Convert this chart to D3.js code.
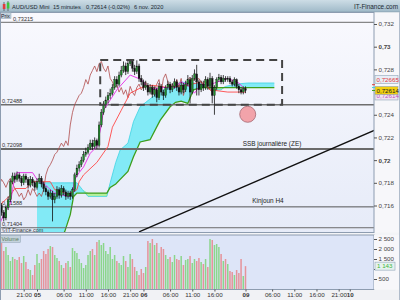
<!DOCTYPE html>
<html><head><meta charset="utf-8">
<script src="https://cdn.jsdelivr.net/npm/d3@7"></script>
<style>body{margin:0;background:#fff}svg{display:block;font-family:"Liberation Sans",Arial,sans-serif}</style>
</head><body><svg id="c" width="400" height="300"></svg>
<script>
// ---- data (30-minute candles, start hour -8.5 relative to 5 nov 00:00) ----
const H0 = -8.5, STEP = 0.5, OPEN0 = 0.7163;
const close = [.7160,.7154,.7149,.7158,.7165,.7181,.7186,.7183,.7187,.7184,
.7180,.7186,.7183,.7178,.7183,.7180,.7176,.7181,.7184,.7179,
.7175,.7172,.7168,.7171,.7165,.7168,.7174,.7169,.7175,.7172,
.7168,.7171,.7168,.7174,.7187,.7193,.7196,.7200,.7205,.7207,
.7211,.7215,.7212,.7217,.7213,.7231,.7242,.7249,.7253,.7257,
.7259,.7264,.7271,.7267,.7275,.7279,.7283,.7278,.7285,.7287,
.7281,.7278,.7283,.7272,.7269,.7264,.7266,.7260,.7264,.7258,
.7262,.7255,.7265,.7260,.7257,.7264,.7267,.7262,.7265,.7269,
.7264,.7260,.7266,.7262,.7267,.7271,.7260,.7272,.7276,.7269,
.7262,.7267,.7264,.7271,.7265,.7272,.7257,.7264,.7271,.7273,
.7269,.7272,.7271,.7272,.7269,.7267,.7271,.7265,.7262,.7260,
.7263,.72614];
const high = [.7166,.7162,.7156,.7160,.7168,.7183,.7189,.7189,.7190,.7189,
.7186,.7188,.7188,.7185,.7186,.7185,.7182,.7184,.7188,.7186,
.7181,.7177,.7174,.7174,.7173,.7171,.7177,.7176,.7178,.7177,
.7174,.7173,.7173,.7176,.7189,.7196,.7199,.7203,.7208,.7211,
.7214,.7218,.7218,.7220,.7219,.7234,.7245,.7252,.7256,.7260,
.7263,.7267,.7274,.7274,.7278,.7283,.7287,.7286,.7288,.7289,
.7289,.7284,.7288,.7285,.7275,.7271,.7270,.7268,.7267,.7266,
.7265,.7264,.7268,.7267,.7262,.7266,.7270,.7269,.7268,.7272,
.7271,.7266,.7269,.7268,.7270,.7275,.7273,.7275,.7280,.7284,
.7271,.7270,.7270,.7274,.7273,.7277,.7274,.7266,.7273,.7276,
.7275,.7275,.7274,.7274,.7274,.7271,.7273,.7272,.7267,.7264,
.7265,.7265];
const low = [.7157,.7151,.7146,.7147,.7156,.7163,.7179,.7180,.7181,.7181,
.7177,.7178,.7180,.7175,.7176,.7177,.7173,.7174,.7179,.7176,
.7172,.7169,.7165,.7166,.7146,.7162,.7166,.7166,.7167,.7169,
.7165,.7166,.7165,.7166,.7172,.7185,.7190,.7194,.7198,.7203,
.7205,.7209,.7209,.7210,.7210,.7211,.7229,.7240,.7246,.7250,
.7254,.7257,.7262,.7264,.7265,.7273,.7277,.7275,.7276,.7283,
.7278,.7275,.7276,.7269,.7266,.7261,.7262,.7257,.7258,.7255,
.7256,.7251,.7253,.7257,.7253,.7255,.7262,.7259,.7260,.7263,
.7261,.7257,.7258,.7259,.7260,.7265,.7250,.7258,.7270,.7257,
.7257,.7260,.7261,.7262,.7262,.7263,.7250,.7240,.7262,.7269,
.7267,.7267,.7269,.7269,.7267,.7265,.7265,.7263,.7259,.7258,
.7258,.7259];
const volume = [2400,2300,1900,2100,1700,1400,1600,1500,1450,1600,
1300,1650,1350,1000,950,700,1200,1750,1300,1500,
1900,1750,2000,2150,2100,1700,1550,1400,1200,1050,
1300,1400,1100,2050,1900,1800,1500,1300,1050,1200,
1700,1900,2000,1700,2350,2450,2200,2300,1900,1750,
2100,1500,1700,1400,1300,1200,1650,1400,1100,1750,
1500,1100,900,700,1000,800,1100,2400,2300,2500,
2200,2300,1800,2100,2000,1700,1500,1600,1350,1700,
1500,1450,1650,1200,1450,1500,1650,1300,1500,1400,
1550,1350,1250,1500,1100,2500,2450,2200,2250,2100,
1750,1400,1500,1250,900,850,700,950,800,1500,
650,1143];
// Ichimoku lines (hour, price)
const tenkanH = [-8.5,-7.5,-6,-5.5,-5,-4.5,-1,0,1,2.5,3,4,7,8,8.5,9.5,10.5,12,13.5,14.5,15,16.5,18,21,23.5,25.5,28,31,32.5,34,35.5,37,38.5,40,43,45.5,47];
const tenkanP = [.7143,.7152,.7162,.7174,.7185,.7189,.7189,.7183,.7181,.7176,.7174,.7171,.7168,.7169,.7183,.7189,.7194,.7206,.7212,.7231,.7244,.7253,.7262,.7275,.7271,.7262,.7264,.7264,.7269,.7266,.7259,.7267,.7266,.7268,.7272,.7268,.7262];
const kijunH = [-8.5,-6,-5,-2.5,-1,3,4,7,9,9.5,10.5,13.5,16,17,19,21,23.5,26,29.5,34,37,39,43,47];
const kijunP = [.7160,.7169,.7175,.7175,.7181,.7181,.7174,.7170,.7174,.7181,.7187,.7198,.7212,.7229,.7244,.7259,.7264,.7266,.7264,.7266,.7269,.7262,.7260,.7260];
const CHIKOU_SHIFT = -6.5;
const cloudH = [0,5.25,6.25,7.5,8.25,9,10.25,11.5,15.75,16.5,17.75,18.75,20.5,21.75,23.25,25.5,27.75,30,31.25,32.5,34,35.25,37,38,39.25,41.5,42.5,44.75,47.5,53.5];
const ssa = [.7180,.7180,.7180,.7180,.7180,.7180,.7174,.7168,.7168,.7180,.7198,.7209,.7215,.7234,.7247,.7254,.7261,.7264,.7266,.7269,.7268,.7268,.7267,.7264,.7262,.7262,.7265,.7267,.7268,.7268];
const ssb = [.7123,.7130,.7137,.7152,.7168,.7171,.7171,.7171,.7171,.7176,.7179,.7183,.7190,.7203,.7216,.7218,.7235,.7247,.7251,.7252,.7250,.7262,.7264,.7264,.7264,.7264,.7264,.7264,.7264,.7264];
// levels & annotations
const levelP = [0.73215,0.72488,0.72098,0.71588,0.71404];
const levelLabels = ["0,73215","0,72488","0,72098","0,71588","0,71404"];
const trendH = [23,76], trendP = [0.71368,0.72262];
const boxH = [14.25,55.25], boxP = [0.72488,0.72883];
const circleH = 47.5, circleP = 0.72404;
const priceTicks = [0.716,0.718,0.72,0.722,0.724,0.728,0.73,0.732];
const priceTickLabels = ["0,716","0,718","0,72","0,722","0,724","0,728","0,73","0,732"];
const volTicks = [500,1000,1500,2000,2500];
const volTickLabels = ["500","","1 500","2 000","2 500"];
const timeTicks = [-3,0,6,11,16,21,24,30,35,40,47,53,58,63,68,70.5];
const timeLabels = ["21:00","05","06:00","11:00","16:00","21:00","06","06:00","11:00","16:00","09","06:00","11:00","16:00","21:00","10"];
const dayLabels = ["05","06","09","10"];

// ---- drawing ----
const svg = d3.select("#c");
const MX0=0.5, MX1=374, MY0=12.5, MY1=232.5, VY0=235, VY1=289.5;
const x = d3.scaleLinear().domain([0,47]).range([37,245.5]);
const y = d3.scaleLinear().domain([0.714,0.732]).range([228.2,24]);
const yv = d3.scaleLinear().domain([0,2700]).range([289,235]);
const hOf = i => H0 + i*STEP;

const defs = svg.append("defs");
const g1 = defs.append("linearGradient").attr("id","hdr").attr("x1",0).attr("y1",0).attr("x2",0).attr("y2",1);
g1.append("stop").attr("offset",0).attr("stop-color","#cddde6");
g1.append("stop").attr("offset",1).attr("stop-color","#9fb9c8");
const g2 = defs.append("linearGradient").attr("id","mainbg").attr("x1",0).attr("y1",0).attr("x2",0).attr("y2",1);
g2.append("stop").attr("offset",0).attr("stop-color","#f9f9fe");
g2.append("stop").attr("offset",1).attr("stop-color","#e6ebf8");
defs.append("clipPath").attr("id","mclip").append("rect").attr("x",MX0).attr("y",MY0).attr("width",MX1-MX0).attr("height",MY1-MY0);

svg.append("rect").attr("width",400).attr("height",300).attr("fill","#f3f4f7");
// header
svg.append("rect").attr("x",0).attr("y",0).attr("width",400).attr("height",12).attr("fill","url(#hdr)");
svg.append("line").attr("x1",0).attr("x2",400).attr("y1",12).attr("y2",12).attr("stroke","#8aa3b3");
svg.append("line").attr("x1",4).attr("x2",4).attr("y1",2).attr("y2",11).attr("stroke","#333").attr("stroke-width",0.6);
svg.append("rect").attr("x",2.8).attr("y",4).attr("width",2.6).attr("height",5).attr("fill","#e23b3b");
svg.append("line").attr("x1",8).attr("x2",8).attr("y1",1).attr("y2",11).attr("stroke","#333").attr("stroke-width",0.6);
svg.append("rect").attr("x",6.8).attr("y",2.5).attr("width",2.6).attr("height",6).attr("fill","#3cc43c");
const hdrTxt = [["AUD/USD Mini",12],["15 minutes",53],["0,72614 (-0,02%)",86],["6 nov. 2020",134]];
svg.selectAll(".ht").data(hdrTxt).join("text").attr("x",d=>d[1]).attr("y",8.6).text(d=>d[0])
  .attr("font-size",5.7).attr("fill","#1c2a33");
svg.append("text").attr("x",398).attr("y",8.6).attr("text-anchor","end").attr("font-size",6.4).attr("fill","#1c2a33").text("IT-Finance.com");

// main panel
svg.append("rect").attr("x",MX0).attr("y",MY0).attr("width",MX1-MX0).attr("height",MY1-MY0).attr("fill","url(#mainbg)");
svg.append("rect").attr("x",MX1).attr("y",MY0).attr("width",400-MX1).attr("height",MY1-MY0).attr("fill","#f7f7fa");
const m = svg.append("g").attr("clip-path","url(#mclip)");

// cloud
const cloud = cloudH.map((h,i)=>({h,a:ssa[i],b:ssb[i]}));
m.append("path").datum(cloud).attr("fill","#82eaf6")
  .attr("d", d3.area().x(d=>x(d.h)).y0(d=>y(d.b)).y1(d=>y(Math.max(d.a,d.b))));
m.append("path").datum(cloud).attr("fill","#b6ef9c")
  .attr("d", d3.area().x(d=>x(d.h)).y0(d=>y(d.a)).y1(d=>y(Math.max(d.a,d.b))));
m.append("path").datum(cloud).attr("fill","none").attr("stroke","#3fd3e3").attr("stroke-width",0.8)
  .attr("d", d3.line().x(d=>x(d.h)).y(d=>y(d.a)));
m.append("path").datum(cloud).attr("fill","none").attr("stroke","#3e9d1c").attr("stroke-width",1.3)
  .attr("d", d3.line().x(d=>x(d.h)).y(d=>y(d.b)));

// horizontal levels
const lvlW=[1,1.4,2,1,1], lvlC=["#6b6b6b","#6e6e6e","#6a6a6a","#555","#6b6b6b"];
const lvlLX=[13,2,2,2,2];
levelP.forEach((p,i)=>{
  m.append("line").attr("x1",MX0).attr("x2",MX1).attr("y1",y(p)).attr("y2",y(p))
    .attr("stroke",lvlC[i]).attr("stroke-width",lvlW[i]);
  m.append("text").attr("x",lvlLX[i]).attr("y",y(p)-1.6).attr("font-size",5.6).attr("fill","#333").text(levelLabels[i]);
});

// chikou, kijun, tenkan
m.append("path").datum(close).attr("fill","none").attr("stroke","#b04a4a").attr("stroke-width",0.8)
  .attr("d", d3.line().x((d,i)=>x(hOf(i)+CHIKOU_SHIFT)).y(d=>y(d)));
m.append("path").datum(kijunH).attr("fill","none").attr("stroke","#ff4747").attr("stroke-width",0.9)
  .attr("d", d3.line().x(d=>x(d)).y((d,i)=>y(kijunP[i])));
m.append("path").datum(tenkanH).attr("fill","none").attr("stroke","#e83de8").attr("stroke-width",1)
  .attr("d", d3.line().x(d=>x(d)).y((d,i)=>y(tenkanP[i])));

// candles
const candles = close.map((c,i)=>({h:hOf(i),o:i?close[i-1]:OPEN0,c,hi:high[i],lo:low[i],v:volume[i]}));
const cg = m.append("g");
cg.selectAll("line").data(candles).join("line")
  .attr("x1",d=>x(d.h)).attr("x2",d=>x(d.h)).attr("y1",d=>y(d.hi)).attr("y2",d=>y(d.lo))
  .attr("stroke","#111").attr("stroke-width",0.8);
cg.selectAll("rect").data(candles).join("rect")
  .attr("x",d=>x(d.h)-0.9).attr("width",1.8)
  .attr("y",d=>y(Math.max(d.o,d.c))).attr("height",d=>Math.max(0.8,Math.abs(y(d.o)-y(d.c))))
  .attr("fill",d=>d.c>=d.o?"#1f8a2a":"#111").attr("stroke","#111").attr("stroke-width",0.3);

// trend line, dashed box, circle
m.append("line").attr("x1",x(trendH[0])).attr("y1",y(trendP[0])).attr("x2",x(trendH[1])).attr("y2",y(trendP[1]))
  .attr("stroke","#111").attr("stroke-width",1.3);
m.append("rect").attr("x",x(boxH[0])).attr("y",y(boxP[1])).attr("width",x(boxH[1])-x(boxH[0])).attr("height",y(boxP[0])-y(boxP[1]))
  .attr("fill","none").attr("stroke","#444").attr("stroke-width",2).attr("stroke-dasharray","8,5");
m.append("circle").attr("cx",x(circleH)).attr("cy",y(circleP)).attr("r",8).attr("fill","#f2a3aa").attr("stroke","#a46670").attr("stroke-width",0.8);
m.append("text").attr("x",272).attr("y",y(0.72098)-3.5).attr("text-anchor","middle").attr("font-size",6.4).attr("fill","#222").text("SSB journalière (ZE)");
m.append("text").attr("x",268).attr("y",y(0.71588)-3.5).attr("text-anchor","middle").attr("font-size",6.4).attr("fill","#222").text("Kinjoun H4");
m.append("text").attr("x",2).attr("y",231.5).attr("font-size",5.4).attr("fill","#333").text("©IT-Finance.com");

svg.append("rect").attr("x",MX0).attr("y",MY0).attr("width",MX1-MX0).attr("height",MY1-MY0).attr("fill","none").attr("stroke","#8d9cb0").attr("stroke-width",1);
// Prix label
svg.append("rect").attr("x",0).attr("y",12.5).attr("width",11).attr("height",6).attr("fill","#c4d2dc").attr("stroke","#8ea2b2").attr("stroke-width",0.5);
svg.append("text").attr("x",1).attr("y",17.5).attr("font-size",5.2).attr("fill","#223").text("Prix");

// price axis
const pa = svg.append("g").attr("transform",`translate(${MX1},0)`)
  .call(d3.axisRight(y).tickValues(priceTicks).tickFormat((d,i)=>priceTickLabels[i]).tickSize(3).tickPadding(1.5));
pa.select(".domain").remove();
pa.selectAll("line").attr("stroke","#555");
pa.selectAll("text").attr("font-size",6.2).attr("fill","#444").attr("font-family","Liberation Sans, Arial, sans-serif")
  .attr("font-weight",(d,i)=>(priceTickLabels[i]==="0,72"||priceTickLabels[i]==="0,73")?"bold":"normal");

// price tags
const tags=[{p:0.72665,dy:-5,fill:"#e8eef7",tc:"#e03a3a",txt:"0,72665"},
            {p:0.72614,dy:5.5,fill:"#efe4f0",tc:"#c050c0",txt:"0,72614"},
            {p:0.72614,dy:0,fill:"#f2cf10",tc:"#222",txt:"0,72614"}];
tags.forEach(t=>{
  const cy=y(t.p)+t.dy;
  svg.append("rect").attr("x",MX1+1).attr("y",cy-4).attr("width",23).attr("height",8).attr("fill",t.fill).attr("stroke","#8fa5b8").attr("stroke-width",0.6);
  svg.append("text").attr("x",MX1+2.5).attr("y",cy+2.3).attr("font-size",6.2).attr("fill",t.tc).text(t.txt);
});
[[0.72665,"#e03a3a"],[0.7264,"#3fd3e3"],[0.72614,"#3e9d1c"]].forEach(d=>{
  svg.append("line").attr("x1",MX1-2).attr("x2",MX1+1).attr("y1",y(d[0])).attr("y2",y(d[0])).attr("stroke",d[1]).attr("stroke-width",1);
});

// volume panel
svg.append("rect").attr("x",MX0).attr("y",VY0).attr("width",MX1-MX0).attr("height",VY1-VY0).attr("fill","#dde5f8").attr("stroke","#8d9cb0");
svg.append("rect").attr("x",MX1).attr("y",VY0).attr("width",400-MX1).attr("height",VY1-VY0).attr("fill","#f7f7fa");
svg.append("g").selectAll("rect").data(candles).join("rect")
  .attr("x",d=>x(d.h)-0.75).attr("width",1.5).attr("y",d=>yv(d.v)).attr("height",d=>yv(0)-yv(d.v))
  .attr("fill",d=>d.c>=d.o?"#8bd68b":"#e5939a");
svg.append("rect").attr("x",0.5).attr("y",VY0+0.5).attr("width",20).attr("height",7).attr("fill","#c4d2dc").attr("stroke","#8ea2b2").attr("stroke-width",0.5);
svg.append("text").attr("x",1.5).attr("y",VY0+6).attr("font-size",5.2).attr("fill","#5a7a5a").text("Volume");
const va = svg.append("g").attr("transform",`translate(${MX1},0)`)
  .call(d3.axisRight(yv).tickValues(volTicks).tickFormat((d,i)=>volTickLabels[i]).tickSize(3).tickPadding(1.5));
va.select(".domain").remove();
va.selectAll("line").attr("stroke","#555");
va.selectAll("text").attr("font-size",6.2).attr("fill","#444").attr("font-family","Liberation Sans, Arial, sans-serif");
const lastV = volume[volume.length-1];
svg.append("rect").attr("x",MX1+1).attr("y",yv(lastV)-4).attr("width",20).attr("height",8).attr("fill","#e6f2ee").attr("stroke","#8fa5b8").attr("stroke-width",0.6);
svg.append("text").attr("x",MX1+3).attr("y",yv(lastV)+2.3).attr("font-size",6.2).attr("fill","#3db53d").text(d3.format(",")(lastV).replace(","," "));

// time axis
svg.append("rect").attr("x",0).attr("y",290).attr("width",400).attr("height",10).attr("fill","#f1f2f5");
const ta = svg.append("g").attr("transform",`translate(0,${VY1})`)
  .call(d3.axisBottom(x).tickValues(timeTicks).tickFormat((d,i)=>timeLabels[i]).tickSize(2).tickPadding(1));
ta.select(".domain").remove();
ta.selectAll("line").attr("stroke","#555");
ta.selectAll("text").attr("font-size",6.2).attr("fill","#333").attr("font-family","Liberation Sans, Arial, sans-serif")
  .attr("font-weight",(d,i)=>dayLabels.includes(timeLabels[i])?"bold":"normal");
svg.append("line").attr("x1",0.5).attr("x2",0.5).attr("y1",12).attr("y2",300).attr("stroke","#8d9cb0");
svg.append("line").attr("x1",399.5).attr("x2",399.5).attr("y1",12).attr("y2",300).attr("stroke","#b0bccb");
</script></body></html>
